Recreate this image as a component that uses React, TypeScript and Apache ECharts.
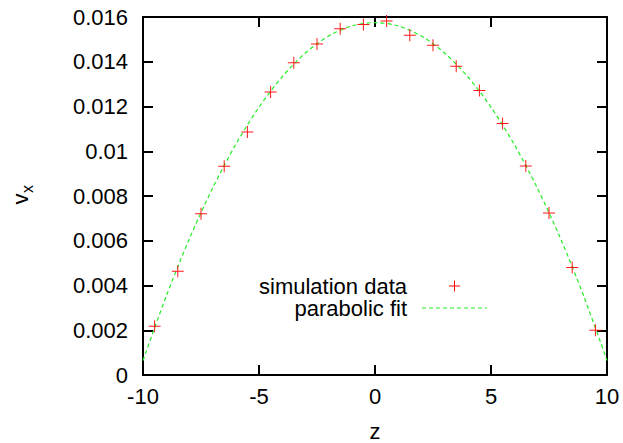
import React, { useEffect, useRef } from "react";
import * as echarts from "echarts";

const simZ = [-9.5, -8.5, -7.5, -6.5, -5.5, -4.5, -3.5, -2.5, -1.5, -0.5, 0.5, 1.5, 2.5, 3.5, 4.5, 5.5, 6.5, 7.5, 8.5, 9.5];
const simV = [0.00218, 0.00464, 0.00721, 0.00933, 0.01086, 0.01265, 0.01396, 0.01479, 0.01548, 0.01567, 0.01582, 0.01518, 0.01474, 0.0138, 0.01272, 0.01124, 0.00934, 0.00724, 0.0048, 0.002];
const fitZ = [-10, -9, -8, -7, -6, -5, -4, -3, -2, -1, 0, 1, 2, 3, 4, 5, 6, 7, 8, 9, 10];
const fitV = [0.00065, 0.00352, 0.00609, 0.00835, 0.01031, 0.01197, 0.01333, 0.01439, 0.01515, 0.0156, 0.01575, 0.0156, 0.01515, 0.01439, 0.01333, 0.01197, 0.01031, 0.00835, 0.00609, 0.00352, 0.00065];
const xTicks = { min: -10, max: 10, interval: 5 };
const yTicks = { min: 0, max: 0.016, interval: 0.002 };
const seriesNames = ["simulation data", "parabolic fit"];

const FONT = "'Liberation Sans', Arial, sans-serif";
const PLUS = "path://M0,5.5H12V6.5H0Z M5.5,0H6.5V12H5.5Z";

export default function App() {
  const ref = useRef<HTMLDivElement>(null);
  useEffect(() => {
    if (!ref.current) return;
    const chart = echarts.init(ref.current, null, { renderer: "svg" });
    const axisLine = { show: true, onZero: false, lineStyle: { color: "#000", width: 2 } };
    const tickStyle = { show: true, inside: true, length: 10, lineStyle: { color: "#000", width: 2 } };
    const label = { color: "#000", fontFamily: FONT, fontSize: 22 };
    chart.setOption({
      animation: false,
      backgroundColor: "#fff",
      grid: { left: 143, right: 16, top: 17, bottom: 68, containLabel: false },
      xAxis: [
        {
          type: "value", ...xTicks, position: "bottom",
          axisLine, axisTick: tickStyle, splitLine: { show: false },
          axisLabel: { ...label, margin: 10 },
        },
        {
          type: "value", ...xTicks, position: "top",
          axisLine, axisTick: tickStyle, splitLine: { show: false },
          axisLabel: { show: false },
        },
      ],
      yAxis: [
        {
          type: "value", ...yTicks, position: "left",
          axisLine, axisTick: tickStyle, splitLine: { show: false },
          axisLabel: { ...label, margin: 15, formatter: (v: number) => String(parseFloat(v.toFixed(4))) },
        },
        {
          type: "value", ...yTicks, position: "right",
          axisLine, axisTick: tickStyle, splitLine: { show: false },
          axisLabel: { show: false },
        },
      ],
      series: [
        {
          name: seriesNames[1],
          type: "line",
          data: fitZ.map((z, i) => [z, fitV[i]]),
          showSymbol: false,
          smooth: 0.3,
          lineStyle: { color: "#22ee22", width: 1.2, type: [4, 3] },
          z: 2,
        },
        {
          name: seriesNames[0],
          type: "scatter",
          data: simZ.map((z, i) => [z, simV[i]]),
          symbol: PLUS,
          symbolSize: 12,
          itemStyle: { color: "#ff0000", opacity: 0.9 },
          z: 3,
        },
      ],
      graphic: [
        {
          type: "text", x: 407, y: 297,
          style: { text: seriesNames.join("\n"), font: `22px ${FONT}`, lineHeight: 22, fill: "#000", align: "right", verticalAlign: "middle" },
        },
        { type: "line", shape: { x1: 449, y1: 286, x2: 460, y2: 286 }, style: { stroke: "#ff0000", lineWidth: 1 } },
        { type: "line", shape: { x1: 454.5, y1: 280.5, x2: 454.5, y2: 291.5 }, style: { stroke: "#ff0000", lineWidth: 1 } },
        { type: "line", shape: { x1: 422, y1: 308, x2: 487, y2: 308 }, style: { stroke: "#22ee22", lineWidth: 1.2, lineDash: [4, 3] } },
        {
          type: "text", x: 375, y: 431,
          style: { text: "z", font: `22px ${FONT}`, fill: "#000", align: "center", verticalAlign: "middle" },
        },
        {
          type: "text", x: 20, y: 199, rotation: Math.PI / 2,
          style: { text: "v", font: `22px ${FONT}`, fill: "#000", align: "center", verticalAlign: "middle" },
        },
        {
          type: "text", x: 27, y: 189, rotation: Math.PI / 2,
          style: { text: "x", font: `16px ${FONT}`, fill: "#000", align: "center", verticalAlign: "middle" },
        },
      ],
    });
    return () => chart.dispose();
  }, []);
  return <div ref={ref} style={{ width: 623, height: 443, position: "absolute", left: 0, top: 0 }} />;
}
